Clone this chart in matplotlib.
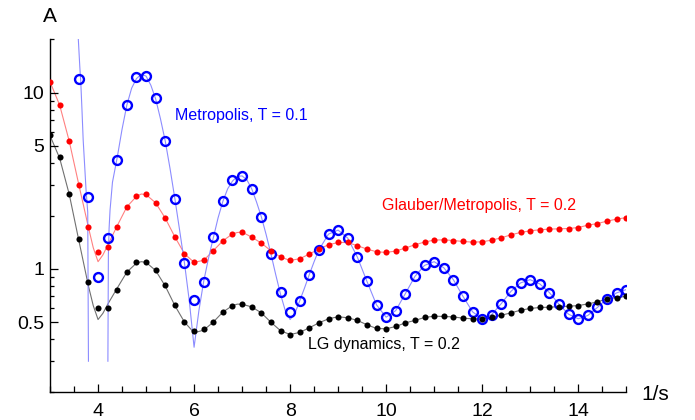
import matplotlib
matplotlib.use("Agg")
import matplotlib.pyplot as plt
import numpy as np
from matplotlib.ticker import FixedLocator, FixedFormatter, LogLocator, NullFormatter, MultipleLocator

plt.rcParams["font.family"] = ["Liberation Sans", "DejaVu Sans"]

# sampling in 1/s
s = np.round(np.arange(3.0, 15.01, 0.2), 1)

# LG dynamics, T = 0.2 (black dots)
lg = [5.76, 4.29, 2.67, 1.48, 0.848, 0.602, 0.604, 0.761, 0.957, 1.10,
      1.10, 0.987, 0.808, 0.628, 0.502, 0.444, 0.454, 0.502, 0.572, 0.62,
      0.631, 0.610, 0.564, 0.499, 0.447, 0.425, 0.437, 0.464, 0.495, 0.522,
      0.536, 0.529, 0.511, 0.483, 0.460, 0.458, 0.472, 0.495, 0.511, 0.531,
      0.540, 0.538, 0.535, 0.526, 0.522, 0.520, 0.533, 0.547, 0.564, 0.584,
      0.597, 0.605, 0.607, 0.612, 0.615, 0.620, 0.634, 0.651, 0.677, 0.688,
      0.700]

# Glauber/Metropolis, T = 0.2 (red dots)
glauber = [11.5, 8.55, 5.33, 2.99, 1.72, 1.25, 1.34, 1.74, 2.25, 2.60,
           2.66, 2.37, 1.95, 1.52, 1.22, 1.09, 1.12, 1.27, 1.445, 1.58,
           1.618, 1.516, 1.402, 1.269, 1.169, 1.118, 1.143, 1.215, 1.297, 1.372,
           1.413, 1.413, 1.355, 1.297, 1.252, 1.241, 1.264, 1.314, 1.372, 1.421,
           1.458, 1.463, 1.45, 1.432, 1.420, 1.426, 1.458, 1.502, 1.563, 1.61,
           1.646, 1.668, 1.683, 1.689, 1.696, 1.718, 1.771, 1.810, 1.867, 1.917,
           1.955]

# Metropolis, T = 0.1 (blue open circles), first three are off scale
metro = [np.nan, np.nan, np.nan, 11.9, 2.57, 0.897, 1.508, 4.13, 8.55, 12.2,
         12.4, 9.29, 5.33, 2.49, 1.08, 0.668, 0.848, 1.51, 2.43, 3.20,
         3.37, 2.83, 1.98, 1.22, 0.741, 0.572, 0.656, 0.929, 1.285, 1.576,
         1.661, 1.497, 1.169, 0.851, 0.626, 0.533, 0.581, 0.725, 0.908, 1.048,
         1.10, 1.017, 0.870, 0.700, 0.572, 0.520, 0.552, 0.637, 0.747, 0.834,
         0.870, 0.823, 0.735, 0.631, 0.554, 0.522, 0.545, 0.605, 0.680, 0.732,
         0.764]

# fitted curves (thin lines), head part, tail follows the dots
lg_fit_x = [3.0, 3.2, 3.4, 3.6, 3.8, 3.9, 4.0, 4.1, 4.2, 4.4, 4.6, 4.8, 4.9, 5.0,
            5.2, 5.4, 5.6, 5.8, 6.0, 6.2, 6.4, 6.6, 6.8, 6.9]
lg_fit = [5.7, 4.25, 2.65, 1.45, 0.80, 0.62, 0.517, 0.56, 0.63, 0.78, 0.96, 1.08, 1.10, 1.09,
          0.98, 0.80, 0.62, 0.50, 0.435, 0.45, 0.50, 0.57, 0.62, 0.632]

glauber_fit_x = [3.0, 3.2, 3.4, 3.6, 3.8, 3.9, 4.0, 4.1, 4.2, 4.4, 4.6, 4.8, 4.9, 5.0,
                 5.2, 5.4, 5.6, 5.8, 6.0, 6.2, 6.4, 6.6, 6.8, 6.9]
glauber_fit = [11.5, 8.5, 5.3, 3.0, 1.72, 1.32, 1.10, 1.20, 1.36, 1.76, 2.25, 2.58, 2.66, 2.64,
               2.37, 1.94, 1.52, 1.22, 1.09, 1.12, 1.27, 1.445, 1.58, 1.61]

metro_fit_x = [3.585, 3.62, 3.64, 3.665, 3.69, 3.72, 3.75, 3.785, 3.80, np.nan,
               4.205, 4.215, 4.23, 4.25, 4.3, 4.4, 4.5, 4.6, 4.7, 4.8, 4.9, 5.0,
               5.1, 5.2, 5.3, 5.4, 5.5, 5.6, 5.7, 5.8, 5.9, 6.0, 6.1, 6.2, 6.3,
               6.4, 6.5, 6.6, 6.7, 6.8, 6.9, 7.0, 7.1, 7.2, 7.3, 7.4, 7.5, 7.6,
               7.7, 7.8, 7.9, 8.0, 8.1, 8.2, 8.3, 8.4, 8.5]
metro_fit = [21.0, 14.0, 11.5, 8.0, 5.4, 3.9, 2.8, 2.1, 0.30, np.nan,
             0.30, 1.2, 1.7, 2.16, 3.1, 4.3, 6.2, 8.5, 10.6, 12.0, 12.7, 12.4,
             11.0, 9.2, 7.1, 5.3, 3.7, 2.5, 1.65, 1.08, 0.66, 0.36, 0.58, 0.85, 1.15,
             1.5, 1.95, 2.42, 2.85, 3.15, 3.35, 3.37, 3.2, 2.85, 2.4, 1.98, 1.57, 1.22,
             0.93, 0.72, 0.58, 0.517, 0.56, 0.66, 0.78, 0.93, 1.10]

lg = np.array(lg)
glauber = np.array(glauber)
metro = np.array(metro)

fig = plt.figure(figsize=(6.95, 4.2), dpi=100)
ax = fig.add_axes([0.072, 0.066, 0.829, 0.840])

# thin fit lines
tail = s >= 7.0
ax.plot(np.concatenate([lg_fit_x, s[tail]]), np.concatenate([lg_fit, lg[tail]]),
        color="#707070", lw=0.8, zorder=1)
ax.plot(np.concatenate([glauber_fit_x, s[tail]]), np.concatenate([glauber_fit, glauber[tail]]),
        color="#ff8080", lw=0.8, zorder=1)
tail_m = s >= 8.6
ax.plot(np.concatenate([metro_fit_x, s[tail_m]]), np.concatenate([metro_fit, metro[tail_m]]),
        color="#8c8cff", lw=0.8, zorder=1)

# data points
ax.plot(s, metro, "o", ms=6.4, mfc="none", mec="#0000ff", mew=1.7, zorder=3)
ax.plot(s, glauber, "o", ms=4.4, color="#ff0000", mec="none", zorder=4)
ax.plot(s, lg, "o", ms=4.4, color="black", mec="none", zorder=5)

ax.text(5.6, 7.4, "Metropolis, T = 0.1", color="#0000ff", fontsize=11.5, va="center")
ax.text(9.92, 2.28, "Glauber/Metropolis, T = 0.2", color="#ff0000", fontsize=11.5, va="center")
ax.text(8.38, 0.373, "LG dynamics, T = 0.2", color="black", fontsize=11.5, va="center")

ax.set_yscale("log")
ax.set_xlim(3, 15)
ax.set_ylim(0.2, 20)

ax.yaxis.set_major_locator(FixedLocator([0.5, 1, 5, 10]))
ax.yaxis.set_major_formatter(FixedFormatter(["0.5", "1", "5", "10"]))
ax.yaxis.set_minor_locator(LogLocator(base=10, subs=np.arange(2, 10)))
ax.yaxis.set_minor_formatter(NullFormatter())
ax.xaxis.set_major_locator(FixedLocator([4, 6, 8, 10, 12, 14]))
ax.xaxis.set_minor_locator(MultipleLocator(0.5))

for side in ("top", "right"):
    ax.spines[side].set_visible(False)
for side in ("left", "bottom"):
    ax.spines[side].set_linewidth(1.0)

ax.tick_params(axis="both", which="both", direction="in", width=0.9, labelsize=14)
ax.tick_params(axis="y", which="major", length=6, pad=4)
ax.tick_params(axis="y", which="minor", length=3)
ax.tick_params(axis="x", which="major", length=6, pad=8)
ax.tick_params(axis="x", which="minor", length=4)

fig.text(50 / 695, 1 - 16 / 420, "A", fontsize=15, ha="center", va="center")
fig.text(655 / 695, 1 - 394 / 420, "1/s", fontsize=15, ha="center", va="center")

fig.savefig("out.png", dpi=100)
